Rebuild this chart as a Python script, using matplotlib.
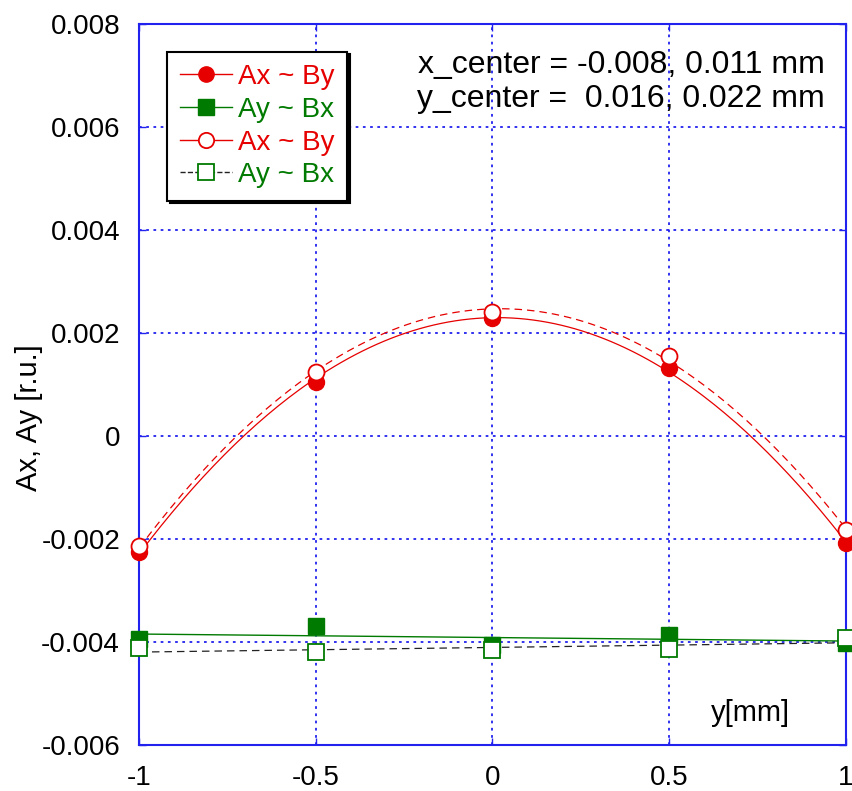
import numpy as np
import matplotlib
matplotlib.use("Agg")
import matplotlib.pyplot as plt

plt.rcParams['font.family'] = ['Liberation Sans', 'DejaVu Sans']

# Data
y_mm = [-1.0, -0.5, 0.0, 0.5, 1.0]
ax_by_filled = [-0.00224, 0.00106, 0.00230, 0.00132, -0.00208]
ay_bx_filled = [-0.00393, -0.00369, -0.00405, -0.00385, -0.00402]
ax_by_open = [-0.00214, 0.00125, 0.00242, 0.00155, -0.00182]
ay_bx_open = [-0.00412, -0.00418, -0.00415, -0.00413, -0.00392]

x_ticks = [-1, -0.5, 0, 0.5, 1]
x_ticklabels = ['-1', '-0.5', '0', '0.5', '1']
y_ticks = [-0.006, -0.004, -0.002, 0, 0.002, 0.004, 0.006, 0.008]
y_ticklabels = ['-0.006', '-0.004', '-0.002', '0', '0.002', '0.004', '0.006', '0.008']

RED = '#e60000'
GREEN = '#007a00'
BLUE = '#2222ee'

fig = plt.figure(figsize=(8.52, 7.91), dpi=100)
ax = fig.add_axes([0.1637, 0.0578, 0.8287, 0.9115])

xs = np.linspace(-1, 1, 200)

def fit(x, y, deg):
    p = np.polyfit(x, y, deg)
    return np.polyval(p, xs)

ms = 11.5
# fit curves
ax.plot(xs, fit(y_mm, ax_by_filled, 2), color=RED, lw=0.9, zorder=3)
ax.plot(xs, fit(y_mm, ax_by_open, 2), color=RED, lw=0.9, ls=(0, (6, 4)), zorder=3)
ax.plot(xs, fit(y_mm, ay_bx_filled, 1), color=GREEN, lw=1.0, zorder=3)
ax.plot(xs, fit(y_mm, ay_bx_open, 1), color='#222222', lw=0.9, ls=(0, (6, 4)), zorder=3)

# markers
ax.plot(y_mm, ax_by_filled, 'o', color=RED, ms=ms, zorder=5, clip_on=False)
ax.plot(y_mm, ay_bx_filled, 's', color=GREEN, ms=ms, zorder=5, clip_on=False)
ax.plot(y_mm, ax_by_open, 'o', mfc='white', mec=RED, mew=1.3, ms=ms, zorder=6, clip_on=False)
ax.plot(y_mm, ay_bx_open, 's', mfc='white', mec=GREEN, mew=1.3, ms=ms, zorder=6, clip_on=False)

ax.set_xlim(-1, 1)
ax.set_ylim(-0.006, 0.008)
ax.set_xticks(x_ticks)
ax.set_xticklabels(x_ticklabels)
ax.set_yticks(y_ticks)
ax.set_yticklabels(y_ticklabels)
ax.tick_params(axis='both', direction='in', length=5, color=BLUE, labelsize=20,
               top=True, right=True, width=1)
ax.tick_params(axis='x', pad=14)
ax.tick_params(axis='y', pad=14)
ax.grid(True, color=BLUE, ls=(0, (1.5, 2.5)), lw=1.3)
for s in ax.spines.values():
    s.set_color(BLUE)
    s.set_linewidth(1.5)

ax.set_ylabel('Ax, Ay [r.u.]', fontsize=21)
ax.yaxis.set_label_coords(-0.137, 0.454)
ax.text(0.921, 0.045, 'y[mm]', transform=ax.transAxes, fontsize=21, ha='right', va='center')

ax.text(0.971, 0.92, 'x_center = -0.008, 0.011 mm\ny_center =  0.016, 0.022 mm',
        transform=ax.transAxes, fontsize=23, ha='right', va='center', linespacing=1.15)

# legend
lms = 11
h1, = ax.plot([], [], '-o', color=RED, ms=lms, lw=1)
h2, = ax.plot([], [], '-s', color=GREEN, ms=lms, lw=1)
h3, = ax.plot([], [], '-o', color=RED, mfc='white', mec=RED, mew=1.3, ms=lms, lw=1)
h4, = ax.plot([], [], '--s', color='#222222', mfc='white', mec=GREEN, mew=1.3, ms=lms, lw=1)
leg = ax.legend([h1, h2, h3, h4], ['Ax ~ By', 'Ay ~ Bx', 'Ax ~ By', 'Ay ~ Bx'],
                loc='upper left', bbox_to_anchor=(0.039, 0.962), borderaxespad=0,
                fontsize=20, frameon=True, fancybox=False, framealpha=1,
                edgecolor='black', handlelength=1.9, handletextpad=0.2,
                labelspacing=0.24, borderpad=0.45,
                shadow={'color': 'black', 'alpha': 1})
leg.get_frame().set_linewidth(1.5)
leg.set_zorder(10)
for t, c in zip(leg.get_texts(), [RED, GREEN, RED, GREEN]):
    t.set_color(c)

fig.savefig('out.png', dpi=100)
